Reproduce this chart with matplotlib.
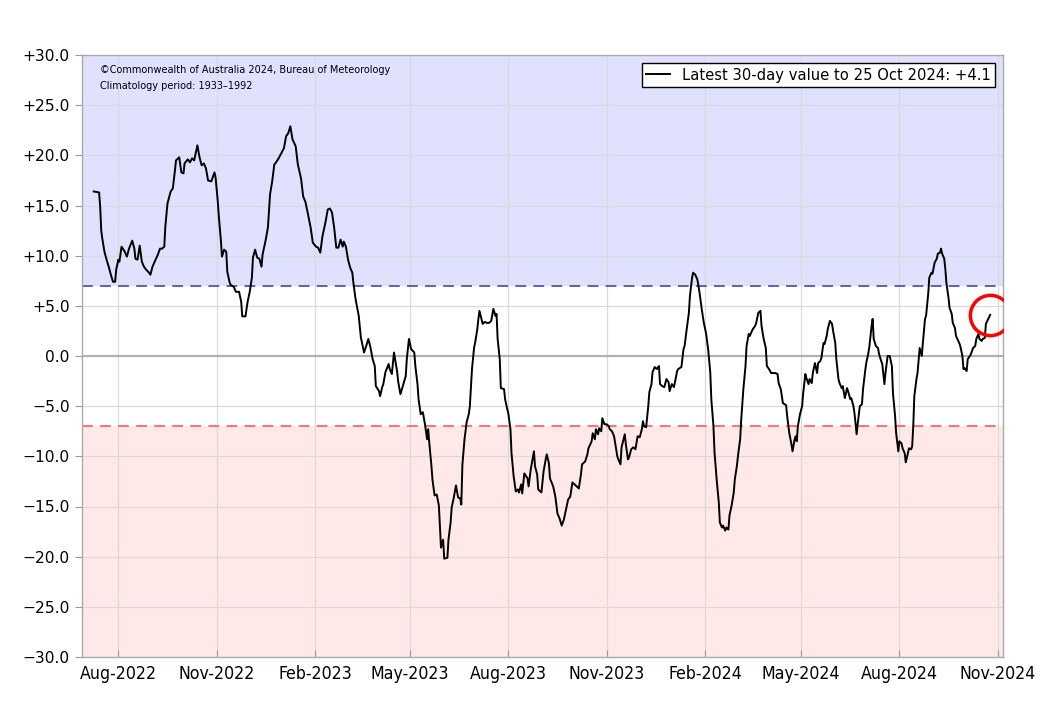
import matplotlib
matplotlib.use("Agg")
import matplotlib.pyplot as plt
import matplotlib.dates as mdates
import numpy as np
import pandas as pd

# ---- data (30-day SOI), day offsets from base date ----
base_date = "2022-08-01"
day_offset = [
    -23, -18, -17, -16, -15, -13, -11, -9, -7, -5, -3, -2, 0, 1, 3, 6, 8, 10, 13, 15,
    16, 18, 20, 22, 24, 26, 28, 30, 32, 34, 37, 39, 41, 43, 44, 46, 49, 51, 53, 54,
    57, 59, 61, 62, 65, 67, 69, 71, 74, 76, 78, 80, 82, 84, 87, 90, 91, 93, 94, 96,
    97, 99, 101, 102, 104, 105, 108, 110, 113, 115, 116, 119, 121, 123, 125, 126, 128, 130, 132, 134,
    135, 138, 140, 142, 144, 146, 147, 150, 152, 155, 157, 159, 161, 163, 166, 168, 171, 173, 175, 177,
    180, 182, 185, 187, 189, 191, 194, 196, 198, 200, 202, 204, 206, 208, 210, 211, 213, 215, 217, 219,
    220, 222, 225, 227, 230, 232, 234, 236, 238, 240, 241, 244, 245, 247, 248, 250, 253, 254, 256, 258,
    259, 261, 262, 264, 266, 269, 270, 272, 274, 277, 278, 280, 281, 283, 285, 287, 289, 290, 291, 293,
    294, 296, 298, 300, 301, 302, 304, 305, 308, 309, 311, 312, 314, 316, 318, 320, 321, 322, 324, 326,
    328, 329, 331, 333, 334, 336, 337, 338, 341, 343, 345, 347, 349, 351, 353, 354, 355, 357, 358, 361,
    362, 364, 365, 367, 368, 370, 372, 374, 375, 377, 378, 380, 383, 384, 386, 387, 389, 390, 392, 393,
    396, 398, 400, 401, 403, 404, 407, 409, 411, 413, 415, 417, 419, 421, 423, 425, 427, 429, 431, 433,
    434, 437, 439, 440, 443, 444, 446, 447, 449, 450, 452, 453, 455, 457, 459, 460, 462, 464, 467, 468,
    470, 471, 474, 475, 477, 478, 480, 482, 484, 486, 488, 490, 491, 492, 494, 496, 497, 499, 500, 502,
    504, 506, 507, 509, 511, 513, 515, 516, 518, 520, 521, 523, 524, 527, 529, 530, 532, 534, 535, 537,
    538, 540, 542, 544, 546, 548, 550, 552, 554, 555, 557, 558, 560, 562, 563, 565, 566, 568, 569, 571,
    572, 574, 576, 577, 579, 580, 582, 583, 585, 587, 588, 590, 591, 593, 594, 596, 597, 599, 601, 602,
    604, 606, 607, 609, 611, 613, 615, 617, 618, 620, 622, 625, 626, 628, 630, 631, 633, 634, 635, 636,
    638, 640, 641, 643, 644, 646, 647, 649, 650, 652, 654, 655, 657, 658, 660, 661, 663, 664, 666, 668,
    669, 671, 672, 674, 675, 677, 678, 680, 682, 683, 685, 686, 688, 689, 691, 692, 694, 696, 697, 699,
    700, 702, 703, 705, 706, 707, 709, 711, 712, 714, 715, 717, 718, 720, 722, 724, 725, 727, 728, 730,
    731, 733, 734, 736, 737, 739, 740, 742, 743, 744, 745, 747, 748, 750, 752, 753, 755, 756, 758, 759,
    761, 762, 764, 766, 767, 769, 770, 771, 773, 774, 775, 777, 778, 780, 781, 783, 784, 787, 788, 790,
    791, 792, 794, 795, 797, 798, 800, 802, 803, 805, 806, 808, 809, 811, 812, 816,
]
soi = [
    16.4, 16.3, 14.9, 12.5, 11.7, 10.4, 9.6, 8.9, 8.1, 7.4, 7.4, 8.6, 9.6, 9.4, 10.9, 10.4, 9.9, 10.7, 11.5, 10.7,
    9.7, 9.6, 11.0, 9.4, 8.9, 8.6, 8.4, 8.1, 8.9, 9.4, 10.1, 10.7, 10.7, 10.9, 12.9, 15.2, 16.4, 16.7, 18.5, 19.5,
    19.8, 18.3, 18.2, 19.2, 19.6, 19.3, 19.7, 19.5, 21.0, 19.8, 19.0, 19.2, 18.7, 17.5, 17.4, 18.3, 17.8, 15.5, 14.0, 11.5,
    9.9, 10.6, 10.4, 8.4, 7.4, 7.1, 6.9, 6.4, 6.4, 5.4, 3.95, 3.95, 5.4, 6.4, 7.8, 9.8, 10.6, 9.8, 9.7, 8.9,
    10.1, 11.6, 12.8, 16.1, 17.4, 19.1, 19.2, 19.7, 20.1, 20.7, 21.9, 22.2, 22.9, 21.6, 20.9, 19.1, 17.7, 15.9, 15.4, 14.4,
    12.8, 11.3, 10.9, 10.8, 10.3, 11.9, 13.4, 14.6, 14.7, 14.3, 12.8, 10.8, 10.8, 11.6, 10.9, 11.4, 10.9, 9.6, 8.8, 8.3,
    7.3, 5.7, 4.0, 1.85, 0.35, 1.0, 1.7, 0.85, -0.3, -1.0, -3.0, -3.5, -4.0, -3.1, -2.8, -1.6, -0.8, -1.3, -1.8, 0.35,
    -0.3, -1.6, -2.6, -3.8, -3.1, -2.0, -0.3, 1.7, 0.7, 0.35, -1.0, -2.8, -4.3, -5.8, -5.6, -6.8, -8.3, -7.3, -8.6, -10.9,
    -12.3, -13.9, -13.8, -14.9, -16.9, -19.1, -18.3, -20.2, -20.1, -18.3, -16.6, -15.1, -14.1, -12.9, -14.1, -14.2, -14.8, -10.9, -8.3, -6.6,
    -5.8, -5.0, -1.3, 0.85, 1.35, 2.7, 3.7, 4.5, 3.2, 3.4, 3.3, 3.3, 3.5, 4.7, 4.0, 4.2, 1.7, -0.3, -3.2, -3.3,
    -4.3, -5.3, -5.7, -7.3, -9.7, -12.0, -13.5, -13.3, -13.6, -12.8, -13.7, -11.7, -12.2, -13.0, -11.3, -10.7, -9.5, -11.0, -11.8, -13.3,
    -13.6, -11.5, -10.3, -9.8, -10.7, -12.2, -13.0, -14.0, -15.7, -16.2, -16.9, -16.3, -15.3, -14.3, -14.0, -12.6, -12.8, -13.0, -13.2, -11.8,
    -10.8, -10.5, -9.8, -9.2, -8.5, -7.7, -8.3, -7.3, -7.8, -7.2, -7.5, -6.2, -6.8, -6.8, -7.0, -7.3, -7.5, -8.0, -10.0, -10.3,
    -10.8, -9.1, -7.8, -8.8, -10.3, -10.1, -9.3, -9.1, -9.3, -8.0, -8.1, -7.3, -6.5, -7.0, -7.1, -5.0, -3.6, -2.8, -1.6, -1.1,
    -1.3, -1.0, -2.8, -3.0, -3.1, -2.3, -2.6, -3.5, -2.8, -3.1, -2.6, -1.5, -1.3, -1.1, 0.7, 1.0, 2.7, 4.3, 6.0, 7.8,
    8.3, 8.1, 7.6, 6.3, 4.7, 3.3, 2.3, 0.7, -1.6, -4.3, -7.0, -9.6, -12.3, -14.6, -16.6, -17.1, -16.9, -17.4, -17.1, -17.3,
    -15.9, -14.9, -13.6, -12.3, -10.9, -9.9, -8.3, -6.3, -3.3, -1.0, 1.0, 2.2, 2.0, 2.5, 2.7, 3.0, 3.3, 4.3, 4.5, 3.0,
    1.7, 0.8, -1.0, -1.3, -1.7, -1.7, -1.7, -1.8, -2.7, -3.3, -4.7, -4.9, -6.0, -7.7, -8.8, -9.5, -8.3, -8.0, -8.5, -7.0,
    -5.8, -5.0, -3.7, -1.8, -2.2, -2.8, -2.3, -2.7, -1.7, -0.7, -1.7, -0.7, -0.5, -0.2, 1.3, 1.2, 2.0, 2.7, 3.5, 3.2,
    2.5, 1.3, -0.3, -2.3, -2.7, -3.2, -3.0, -4.2, -3.2, -3.5, -4.3, -4.2, -5.0, -5.7, -7.8, -6.8, -5.0, -4.8, -3.3, -1.5,
    -0.7, 0.3, 1.0, 3.0, 3.7, 1.7, 1.0, 0.8, 0.2, -0.5, -0.8, -2.8, -1.7, 0.0, 0.0, -1.0, -3.7, -6.0, -7.7, -9.5,
    -8.5, -8.7, -9.2, -9.7, -10.6, -9.7, -9.2, -9.3, -9.0, -7.0, -4.0, -2.3, -1.7, 0.8, 0.0, 1.3, 3.7, 4.0, 6.2, 7.8,
    8.3, 8.2, 9.3, 9.7, 10.2, 10.3, 10.7, 10.2, 9.7, 8.7, 7.3, 5.8, 4.8, 4.2, 3.3, 2.8, 2.0, 1.3, 1.0, 0.0,
    -1.3, -1.2, -1.5, -0.3, 0.0, 0.2, 0.8, 1.0, 1.7, 2.2, 1.7, 1.5, 1.7, 1.8, 3.2, 4.1,
]
latest_label = "Latest 30-day value to 25 Oct 2024: +4.1"
copyright_text = "\u00a9Commonwealth of Australia 2024, Bureau of Meteorology\nClimatology period: 1933\u20131992"
threshold_hi = 7.0
threshold_lo = -7.0
y_ticks = np.arange(-30, 31, 5)
x_tick_dates = ["2022-08-01", "2022-11-01", "2023-02-01", "2023-05-01", "2023-08-01",
                "2023-11-01", "2024-02-01", "2024-05-01", "2024-08-01", "2024-11-01"]
x_limits = ["2022-06-28", "2024-11-06"]

dates = pd.to_datetime(base_date) + pd.to_timedelta(day_offset, unit="D")

# ---- figure ----
fig = plt.figure(figsize=(10.61, 7.07), dpi=100)
ax = fig.add_axes([82 / 1061, 1 - 657 / 707, (1003 - 82) / 1061, (657 - 55) / 707])

xlim = pd.to_datetime(x_limits)
ax.set_xlim(xlim[0], xlim[1])
ax.set_ylim(-30, 30)

# background bands
ax.axhspan(threshold_hi, 30, color="#e0e0ff", zorder=0, lw=0)
ax.axhspan(-30, threshold_lo, color="#ffe8e8", zorder=0, lw=0)

# grid
ax.set_yticks(y_ticks)
ax.set_xticks(pd.to_datetime(x_tick_dates))
ax.grid(True, color="#dadada", lw=0.9, zorder=1)
ax.set_axisbelow(True)

# threshold and zero lines
ax.axhline(0, color="#b0b0b0", lw=1.5, zorder=2)
ax.axhline(threshold_hi, color="#5555aa", lw=1.3, ls=(0, (6, 4)), zorder=2)
ax.axhline(threshold_lo, color="#ff6666", lw=1.3, ls=(0, (6, 4)), zorder=2)

# data line
ax.plot(dates, soi, color="black", lw=1.4, zorder=3, label=latest_label)
ax.plot(dates[-1:], soi[-1:], marker="o", ms=29, mfc="none", mec="red", mew=2.5,
        ls="none", zorder=4)

# tick formatting
def ylab(v):
    if v > 0:
        return "+%.1f" % v
    if v == 0:
        return "0.0"
    return "\u2212%.1f" % abs(v)

ax.set_yticklabels([ylab(v) for v in y_ticks], fontsize=11.2)
ax.xaxis.set_major_formatter(mdates.DateFormatter("%b-%Y"))
for lab in ax.get_xticklabels():
    lab.set_fontsize(12.7)
    lab.set_fontstretch("condensed")
ax.tick_params(axis="y", direction="out", length=5, color="#999999", pad=4)
ax.tick_params(axis="x", direction="in", length=5, color="#999999", pad=6)
for s in ax.spines.values():
    s.set_color("#aaaaaa")
    s.set_linewidth(1.0)

# texts
ax.text(0.02, 0.983, copyright_text, transform=ax.transAxes, fontsize=7.0,
        va="top", ha="left", linespacing=1.75)
leg = ax.legend(loc="upper right", fontsize=10.6, frameon=True, fancybox=False,
                edgecolor="black", framealpha=1.0, borderaxespad=0.55,
                handlelength=1.6, borderpad=0.3)
leg.get_frame().set_linewidth(1.0)

fig.savefig("out.png", dpi=100)
